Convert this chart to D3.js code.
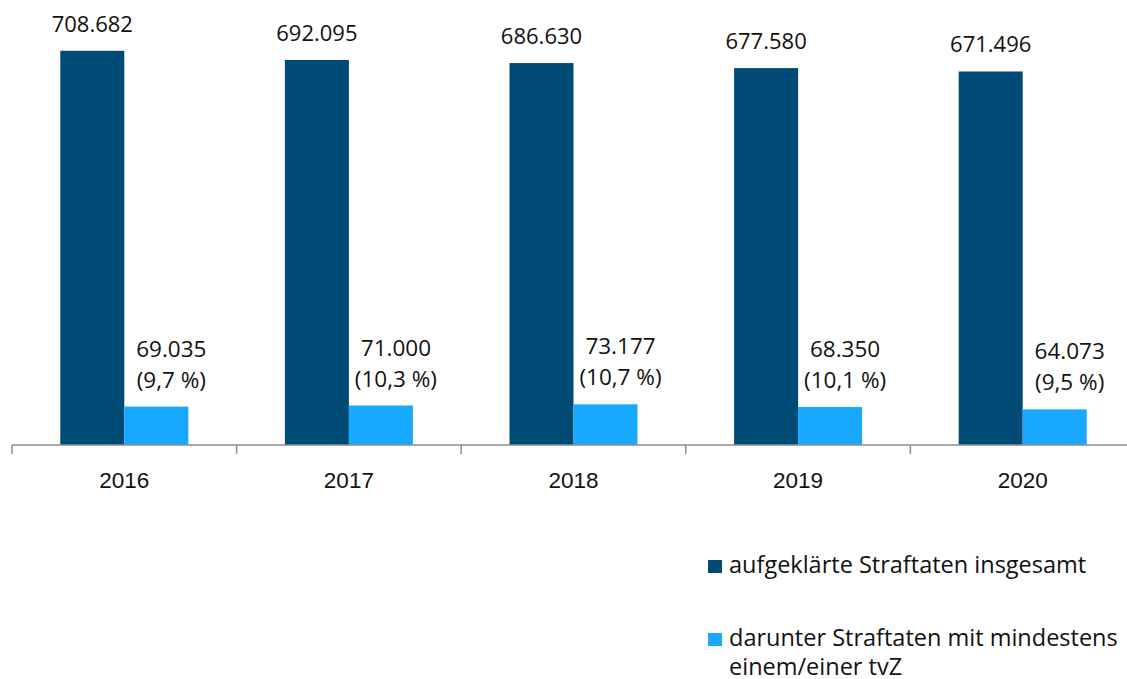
<!DOCTYPE html>
<html lang="de">
<head>
<meta charset="utf-8">
<script src="https://cdn.jsdelivr.net/npm/d3@7"></script>
<style>
  html, body { margin: 0; padding: 0; background: #fff; }
  svg { display: block; font-family: "Open Sans", "Noto Sans", sans-serif; }
</style>
</head>
<body>
<svg id="chart"></svg>
<script>
const years = ["2016", "2017", "2018", "2019", "2020"];
const totalCleared = [708682, 692095, 686630, 677580, 671496];
const withSuspects = [69035, 71000, 73177, 68350, 64073];
const shareLabels = ["(9,7 %)", "(10,3 %)", "(10,7 %)", "(10,1 %)", "(9,5 %)"];
const seriesNames = [
  ["aufgeklärte Straftaten insgesamt"],
  ["darunter Straftaten mit mindestens", "einem/einer tvZ"]
];

const W = 1127, H = 679;
const COLORS = ["#004b76", "#18a9ff"];
const fmt = d3.formatLocale({decimal: ",", thousands: ".", grouping: [3], currency: ["", "€"]}).format(",d");

const svg = d3.select("#chart").attr("width", W).attr("height", H);

const axisY = 445;
const x = d3.scaleBand().domain(years).range([12, 1135]).paddingInner(0).paddingOuter(0);
const y = d3.scaleLinear().domain([0, 800000]).range([axisY, 0]);
const barW = 64;
const groupOff = (x.bandwidth() - 2 * barW) / 2;

// bars
svg.append("g")
  .selectAll("rect")
  .data(years)
  .join("rect")
  .attr("x", d => x(d) + groupOff)
  .attr("y", (d, i) => y(totalCleared[i]))
  .attr("width", barW)
  .attr("height", (d, i) => axisY - y(totalCleared[i]))
  .attr("fill", COLORS[0]);

svg.append("g")
  .selectAll("rect")
  .data(years)
  .join("rect")
  .attr("x", d => x(d) + groupOff + barW)
  .attr("y", (d, i) => y(withSuspects[i]))
  .attr("width", barW)
  .attr("height", (d, i) => axisY - y(withSuspects[i]))
  .attr("fill", COLORS[1]);

// x axis
const xAxis = svg.append("g")
  .attr("transform", `translate(0,${axisY})`)
  .call(d3.axisBottom(x).tickSize(0).tickPadding(0).tickFormat(""));
xAxis.select(".domain").remove();
xAxis.append("line")
  .attr("x1", 12).attr("x2", W)
  .attr("stroke", "#8c8c8c").attr("stroke-width", 1.5);
xAxis.selectAll(".sep")
  .data(years)
  .join("line")
  .attr("class", "sep")
  .attr("x1", d => x(d)).attr("x2", d => x(d))
  .attr("y1", 0).attr("y2", 9)
  .attr("stroke", "#8c8c8c").attr("stroke-width", 1.5);
xAxis.selectAll(".yl")
  .data(years)
  .join("text")
  .attr("class", "yl")
  .attr("x", d => x(d) + x.bandwidth() / 2)
  .attr("y", 43)
  .attr("text-anchor", "middle")
  .attr("font-size", 22.5)
  .attr("fill", "#111")
  .text(d => d);

// value labels
svg.append("g")
  .selectAll("text")
  .data(years)
  .join("text")
  .attr("x", d => x(d) + groupOff + barW / 2)
  .attr("y", (d, i) => y(totalCleared[i]) - 19)
  .attr("text-anchor", "middle")
  .attr("font-size", 22)
  .attr("fill", "#111")
  .text((d, i) => fmt(totalCleared[i]));

const lightLbl = svg.append("g")
  .selectAll("text")
  .data(years)
  .join("text")
  .attr("text-anchor", "middle")
  .attr("font-size", 22.5)
  .attr("fill", "#111");
lightLbl.append("tspan")
  .attr("x", d => x(d) + groupOff + barW * 1.5 + 15)
  .attr("y", (d, i) => y(withSuspects[i]) - 50)
  .text((d, i) => fmt(withSuspects[i]));
lightLbl.append("tspan")
  .attr("x", d => x(d) + groupOff + barW * 1.5 + 15)
  .attr("y", (d, i) => y(withSuspects[i]) - 19)
  .text((d, i) => shareLabels[i]);

// legend
const legendTops = [560, 633];
const legend = svg.append("g")
  .selectAll("g")
  .data(seriesNames)
  .join("g")
  .attr("transform", (d, i) => `translate(708,${legendTops[i]})`);
legend.append("rect")
  .attr("width", 14).attr("height", 13)
  .attr("fill", (d, i) => COLORS[i]);
legend.append("text")
  .attr("font-size", 23.5)
  .attr("fill", "#111")
  .selectAll("tspan")
  .data(d => d)
  .join("tspan")
  .attr("x", 21)
  .attr("y", (d, j) => 13 + j * 29)
  .text(d => d);
</script>
</body>
</html>
